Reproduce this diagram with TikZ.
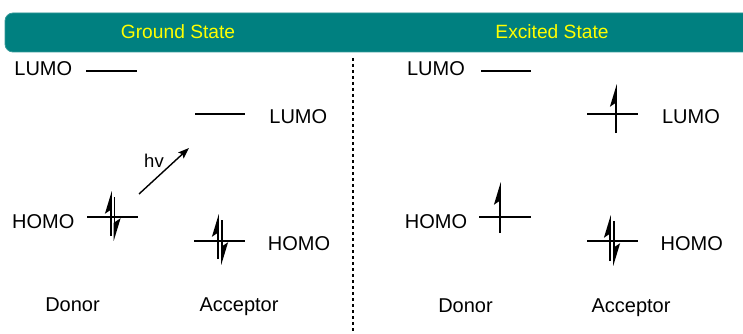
\documentclass[tikz,border=0pt]{standalone}
\usepackage{fontspec}
\setmainfont{Liberation Sans}
\usetikzlibrary{arrows.meta}
\definecolor{banner}{RGB}{0,128,128}
\definecolor{bannertext}{RGB}{255,255,0}
\tikzset{
  lbl/.style={font=\fontsize{20}{23}\selectfont, inner sep=0pt, anchor=base},
  head/.style={font=\fontsize{19.2}{22}\selectfont, text=bannertext, inner sep=0pt},
  level/.style={line width=1.3pt},
  elec/.style={line width=1.6pt, -{Stealth[harpoon, length=20pt, width=12pt, inset=4pt]}},
  photon/.style={line width=1.4pt, -{Stealth[length=11pt, width=8pt, inset=2pt]}},
  divider/.style={line width=1.1pt, dash pattern=on 3pt off 3pt}
}
\begin{document}
\begin{tikzpicture}[x=1pt, y=-1pt]
\useasboundingbox (0,0) rectangle (743,334);
\clip (0,0) rectangle (743,334);
% banner
\fill[banner, draw=banner!80!white, line width=0.8pt, rounded corners=8pt] (5,13) rectangle (770,52);
\node[head] (gs) at (178,32) {Ground State};
\node[head] (es) at (552,32) {Excited State};
% divider
\coordinate (dtop) at (353,58);
\coordinate (dbot) at (353,334);
\draw[divider] (dtop) -- (dbot);

% ===== Ground state =====
\coordinate (gdl1) at (86,71);   \coordinate (gdl2) at (137,71);
\coordinate (gal1) at (195,114); \coordinate (gal2) at (245,114);
\coordinate (gdh1) at (87,217);  \coordinate (gdh2) at (138,217);
\coordinate (gah1) at (194,241); \coordinate (gah2) at (245,241);
\draw[level] (gdl1) -- (gdl2);
\draw[level] (gal1) -- (gal2);
\draw[level] (gdh1) -- (gdh2);
\draw[level] (gah1) -- (gah2);
% electrons
\coordinate (e1a) at (111,236); \coordinate (e1b) at (111,191);
\coordinate (e2a) at (114.5,197); \coordinate (e2b) at (114.5,241);
\draw[elec] (e1a) -- (e1b);
\draw[elec] (e2a) -- (e2b);
\coordinate (e3a) at (218,259); \coordinate (e3b) at (218,214);
\coordinate (e4a) at (222,220); \coordinate (e4b) at (222,265);
\draw[elec] (e3a) -- (e3b);
\draw[elec] (e4a) -- (e4b);
% photon
\coordinate (hva) at (139,194); \coordinate (hvb) at (189,148);
\draw[photon] (hva) -- (hvb);
\node[lbl, font=\fontsize{18.5}{21}\selectfont] (hv) at (154,167.3) {hv};
% labels
\node[lbl] (t1) at (43.3,75.7) {LUMO};
\node[lbl] (t2) at (43.3,228.3) {HOMO};
\node[lbl] (t3) at (298.3,123.3) {LUMO};
\node[lbl] (t4) at (299,250) {HOMO};
\node[lbl] (t5) at (72.5,311.7) {Donor};
\node[lbl] (t6) at (239,311.7) {Acceptor};

% ===== Excited state =====
\coordinate (edl1) at (481,71);  \coordinate (edl2) at (531,71);
\coordinate (eal1) at (587,114); \coordinate (eal2) at (638,114);
\coordinate (edh1) at (479,217); \coordinate (edh2) at (531,217);
\coordinate (eah1) at (587,241); \coordinate (eah2) at (638,241);
\draw[level] (edl1) -- (edl2);
\draw[level] (eal1) -- (eal2);
\draw[level] (edh1) -- (edh2);
\draw[level] (eah1) -- (eah2);
\coordinate (f1a) at (500,233); \coordinate (f1b) at (500,182);
\draw[elec] (f1a) -- (f1b);
\coordinate (f2a) at (616,133); \coordinate (f2b) at (616,84);
\draw[elec] (f2a) -- (f2b);
\coordinate (f3a) at (610,261); \coordinate (f3b) at (610,215);
\coordinate (f4a) at (614,221); \coordinate (f4b) at (614,266);
\draw[elec] (f3a) -- (f3b);
\draw[elec] (f4a) -- (f4b);
\node[lbl] (u1) at (436,76) {LUMO};
\node[lbl] (u2) at (436,228) {HOMO};
\node[lbl] (u3) at (691,123.3) {LUMO};
\node[lbl] (u4) at (691.7,250) {HOMO};
\node[lbl] (u5) at (465.5,312) {Donor};
\node[lbl] (u6) at (631,312) {Acceptor};
\end{tikzpicture}
\end{document}
